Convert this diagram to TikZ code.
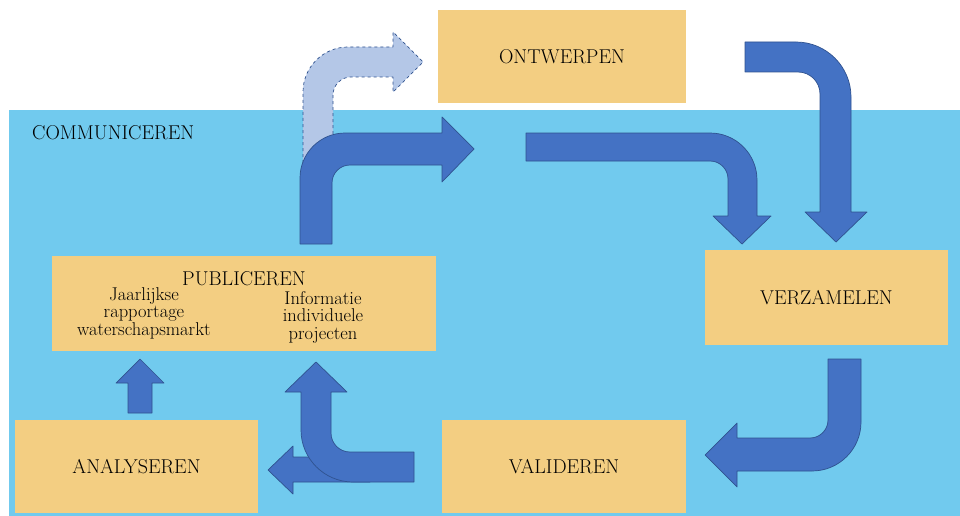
\documentclass[tikz,border=0pt]{standalone}
\usetikzlibrary{positioning}
\definecolor{boxfill}{RGB}{243,206,130}
\definecolor{commblue}{RGB}{113,202,238}
\definecolor{arrowfill}{RGB}{68,114,196}
\definecolor{arrowedge}{RGB}{47,82,143}
\definecolor{ghostfill}{RGB}{180,199,231}
\begin{document}
\begin{tikzpicture}[x=1pt,y=-1pt,
  stage/.style={fill=boxfill,inner sep=0pt,font=\fontsize{20}{22}\selectfont},
  note/.style={align=center,inner sep=0pt,font=\fontsize{18.5}{17.5}\selectfont},
  blockarrow/.style={fill=arrowfill,draw=arrowedge,line width=0.7pt,line join=round},
  ghostarrow/.style={fill=ghostfill,draw=arrowedge,line width=0.7pt,dashed,line join=round}]

\useasboundingbox (0,0) rectangle (960,516);
\fill[commblue] (9,110) rectangle (960,516);
\node[anchor=west,inner sep=0pt,font=\fontsize{20}{22}\selectfont] (communiceren) at (32,132.5) {COMMUNICEREN};

\node[stage,minimum width=248pt,minimum height=93pt] (ontwerpen) at (562,56.5) {ONTWERPEN};
\node[stage,minimum width=243pt,minimum height=95pt] (verzamelen) at (826.5,297.5) {VERZAMELEN};
\node[stage,minimum width=244pt,minimum height=93pt] (valideren) at (564,466.5) {VALIDEREN};
\node[stage,minimum width=243pt,minimum height=93pt] (analyseren) at (136.5,466.5) {ANALYSEREN};
\node[stage,minimum width=384pt,minimum height=95pt] (publiceren) at (244,303.5) {};
\node[inner sep=0pt,font=\fontsize{20}{22}\selectfont,below=16pt of publiceren.north] (pubtitle) {PUBLICEREN};
\node[note] (jaarlijks) at (144,313) {Jaarlijkse\\rapportage\\waterschapsmarkt};
\node[note] (projecten) at (323,317) {Informatie\\individuele\\projecten};

\draw[ghostarrow] (303,175) -- (303,92) arc[start angle=180,end angle=90,radius=45pt] -- (393,47) -- (393,32) -- (423,62) -- (393,92) -- (393,77) -- (351,77) arc[start angle=90,end angle=180,radius=18pt] -- (333,175) -- cycle;
\draw[blockarrow] (300,244) -- (300,178) arc[start angle=180,end angle=90,radius=45pt] -- (442,133) -- (442,117) -- (474,149) -- (442,182) -- (442,165) -- (350,165) arc[start angle=90,end angle=180,radius=18pt] -- (332,244) -- cycle;
\draw[blockarrow] (526,133) -- (710,133) arc[start angle=90,end angle=0,radius=47pt] -- (757,216) -- (771,216) -- (742,244) -- (713,216) -- (728,216) -- (728,179) arc[start angle=0,end angle=90,radius=18pt] -- (526,161) -- cycle;
\draw[blockarrow] (745,42) -- (796,42) arc[start angle=90,end angle=0,radius=55pt] -- (851,212) -- (867,212) -- (836,242) -- (805,212) -- (820,212) -- (820,94) arc[start angle=0,end angle=90,radius=22pt] -- (745,72) -- cycle;
\draw[blockarrow] (828,359) -- (861,359) -- (861,422) arc[start angle=0,end angle=-90,radius=49pt] -- (737,471) -- (737,487) -- (705,455) -- (737,423) -- (737,438) -- (810,438) arc[start angle=-90,end angle=0,radius=18pt] -- cycle;
\draw[blockarrow] (370,457) -- (293,457) -- (293,446) -- (268,470) -- (293,494) -- (293,482) -- (370,482) -- cycle;
\draw[blockarrow] (414,452) -- (414,482) -- (353,482) arc[start angle=270,end angle=180,radius=52pt] -- (301,392) -- (285,392) -- (316,362) -- (347,392) -- (331,392) -- (331,433) arc[start angle=180,end angle=270,radius=19pt] -- cycle;
\draw[blockarrow] (128,413) -- (128,383) -- (116,383) -- (140,359) -- (164,383) -- (152,383) -- (152,413) -- cycle;
\end{tikzpicture}
\end{document}
